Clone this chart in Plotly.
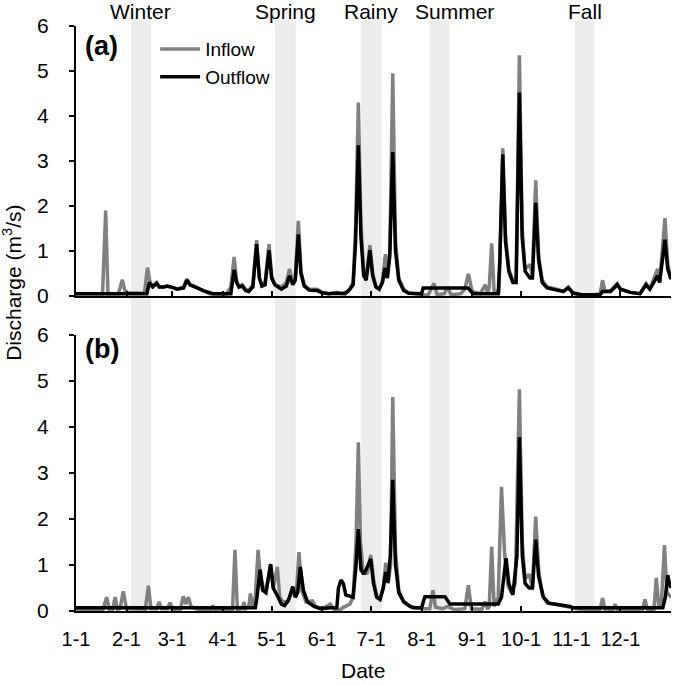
import plotly.graph_objects as go
from plotly.subplots import make_subplots

# month starts (day of year) and their labels
month_days = [0, 31, 59, 90, 120, 151, 181, 212, 243, 273, 304, 334]
month_labels = ["1-1", "2-1", "3-1", "4-1", "5-1", "6-1", "7-1", "8-1", "9-1", "10-1", "11-1", "12-1"]

# shaded sampling periods
seasons = ["Winter", "Spring", "Rainy", "Summer", "Fall"]
season_start = [33.7, 122, 175, 216.8, 306]
season_end = [46, 134.8, 187.5, 229, 318]

# (a) inflow
a_in_day = [0, 15.5, 16.3, 18.2, 19.6, 26, 28.4, 30, 32, 42, 43.8, 45.5, 47, 49.5, 51, 54, 56, 60, 62, 66, 68, 70, 74, 78, 82,
            92, 95, 97, 98.5, 100, 102, 104, 106, 108.5, 110.8, 112.5, 114, 116, 118.4, 120, 122, 126, 129, 131, 133, 134.5,
            136.4, 138, 140, 143, 146, 148, 151, 155, 160, 163, 167, 170, 171.5, 173.2, 174.8, 176.5, 178, 180.3, 182, 184,
            186, 188, 189.8, 191, 192.5, 194.3, 196, 198, 201, 204, 212, 216, 219.6, 221.5, 226, 228, 230, 236, 238.5, 240.7,
            243, 248, 251, 252.5, 253.5, 255, 256.5, 259.5, 261.8, 263.5, 265.5, 268, 270, 272, 273.7, 275.5, 278.5, 280,
            282, 283.8, 286, 289, 295, 299, 302, 305, 310, 318, 321.5, 323, 324.5, 328, 332, 334, 340, 346, 349.7, 352,
            356.8, 358, 361.3, 363, 365]
a_in_q = [0.05, 0.05, 0.05, 1.9, 0.05, 0.05, 0.36, 0.12, 0.07, 0.06, 0.63, 0.3, 0.22, 0.3, 0.2, 0.2, 0.22, 0.18, 0.15, 0.2,
          0.38, 0.25, 0.2, 0.12, 0.05,
          0.04, 0.2, 0.87, 0.35, 0.2, 0.25, 0.15, 0.12, 0.25, 1.24, 0.4, 0.25, 0.3, 1.15, 0.45, 0.25, 0.2, 0.3, 0.6, 0.3, 0.4,
          1.67, 0.55, 0.25, 0.15, 0.15, 0.15, 0.08, 0.05, 0.08, 0.05, 0.1, 0.3, 1.5, 4.3, 1.6, 0.5, 0.4, 1.13, 0.5, 0.2,
          0.15, 0.35, 0.93, 0.4, 1.0, 4.95, 1.2, 0.4, 0.15, 0.07, 0.03, 0.02, 0.28, 0.03, 0.05, 0.2, 0.03, 0.05, 0.15, 0.49,
          0.1, 0.05, 0.25, 0.05, 0.2, 1.17, 0.1, 0.1, 3.28, 1.3, 0.6, 0.35, 0.4, 5.35, 1.5, 0.6, 0.7, 0.45,
          2.57, 0.9, 0.35, 0.2, 0.15, 0.1, 0.2, 0.07, 0.03, 0.03, 0.05, 0.35, 0.1, 0.12, 0.28, 0.15, 0.08, 0.05, 0.27, 0.15,
          0.6, 0.3, 1.73, 0.7, 0.4]

# (a) outflow
a_out_day = [0, 42, 43.5, 45, 47, 49.5, 51, 54, 56, 60, 62, 66, 68, 70, 74, 78, 84, 95, 97, 98.5, 100, 102, 104, 106, 108.5,
             110.8, 112.5, 114, 116, 118.4, 120, 122, 126, 129, 131, 133, 134.5, 136.4, 138, 140, 143, 146, 148, 151, 155,
             160, 165, 168, 170, 171.5, 173.2, 174.8, 176.5, 178, 180.3, 182, 184, 186, 188, 189.5, 191, 192.5, 194.3, 196,
             198, 201, 204, 212, 213, 240.5, 243.5, 259, 260, 261.8, 263.5, 265.5, 268, 270, 272, 273.7, 275.5, 278.5, 280,
             282, 283.8, 286, 289, 295, 299, 302, 305, 310, 321.5, 323, 328, 332, 334, 340, 346, 349.7, 352, 356.8, 358,
             361.3, 363, 365]
a_out_q = [0.05, 0.05, 0.05, 0.3, 0.2, 0.28, 0.2, 0.2, 0.22, 0.18, 0.15, 0.18, 0.35, 0.25, 0.18, 0.12, 0.05, 0.05, 0.58, 0.3,
           0.2, 0.22, 0.12, 0.1, 0.2,
           1.15, 0.4, 0.22, 0.25, 1.02, 0.4, 0.25, 0.15, 0.22, 0.45, 0.25, 0.35, 1.37, 0.5, 0.22, 0.13, 0.12, 0.12, 0.07, 0.05,
           0.06, 0.05, 0.15, 0.25, 1.2, 3.35, 1.3, 0.45, 0.35, 1.02, 0.45, 0.2, 0.15, 0.3, 0.62, 0.4, 0.9, 3.2, 1.0,
           0.35, 0.12, 0.06, 0.05, 0.18, 0.18, 0.05, 0.05, 0.8, 3.15, 1.2, 0.55, 0.3, 0.3, 4.52, 1.3, 0.55, 0.4, 0.4,
           2.07, 0.8, 0.3, 0.18, 0.13, 0.1, 0.18, 0.06, 0.03, 0.03, 0.1, 0.1, 0.25, 0.15, 0.08, 0.05, 0.25, 0.15, 0.45, 0.3,
           1.25, 0.6, 0.37]

# (b) inflow
b_in_day = [0, 16.5, 18.8, 20.5, 22.5, 24, 25.5, 27, 29, 31, 42.5, 44.4, 46, 49.5, 51, 52.5, 56, 57.7, 59.5, 64, 65.8, 67.3,
            69, 70.5, 73, 75, 83, 84, 85, 96, 97.5, 99, 102, 103, 104, 106, 107, 108.5, 110, 111.7, 113, 115, 117, 119.4,
            121, 123.5, 125, 127, 130, 133, 135, 136.8, 138.5, 141, 145, 147, 151, 156, 158, 161, 164, 168, 170, 171.8,
            173.2, 174.5, 176, 178.5, 180.8, 182.5, 184.5, 186.5, 188.5, 190, 191.5, 193, 194.3, 196, 198, 201, 205, 212,
            217, 219, 220.5, 225, 228, 232, 238.5, 240.7, 242.5, 249, 251, 252.5, 253.5, 255, 256.5, 259, 261, 263, 265,
            267, 269.5, 272, 273.7, 275.5, 278, 280, 282, 283.8, 286, 289, 295, 300, 304, 310, 321.5, 323, 324.5, 329.5,
            330.7, 332, 347.5, 349, 350.5, 354.5, 356, 357.5, 359, 361, 362.5, 365]
b_in_q = [0.03, 0.03, 0.3, 0.03, 0.03, 0.3, 0.03, 0.05, 0.43, 0.05, 0.04, 0.55, 0.05, 0.05, 0.2, 0.05, 0.05, 0.18, 0.04, 0.04,
          0.32, 0.15, 0.3, 0.1, 0.06, 0.04, 0.04, 0.12, 0.03, 0.03, 1.33, 0.03, 0.05, 0.2, 0.05, 0.1, 0.38, 0.1, 0.3, 1.33,
          0.8, 0.5, 0.5, 1.0, 0.5, 0.96, 0.3, 0.2, 0.2, 0.5, 0.3, 1.28, 0.45, 0.2, 0.22, 0.1, 0.05, 0.15, 0.05, 0.0, 0.08,
          0.15, 0.3, 1.5, 3.67, 1.5, 0.9, 0.8, 1.22, 0.7, 0.3, 0.25, 0.5, 1.05, 0.6, 1.0, 4.65, 1.3, 0.45, 0.2, 0.1, 0.05,
          0.05, 0.45, 0.08, 0.05, 0.1, 0.03, 0.05, 0.56, 0.05, 0.04, 0.2, 0.04, 0.1, 1.4, 0.1, 0.3, 2.7, 1.2, 0.55,
          0.4, 0.6, 4.82, 1.5, 0.7, 0.8, 0.5, 2.05, 0.9, 0.35, 0.17, 0.14, 0.1, 0.06, 0.03, 0.03, 0.28, 0.03, 0.03,
          0.15, 0.03, 0.03, 0.25, 0.03, 0.03, 0.72, 0.1, 0.1, 1.43, 0.4, 0.3]

# (b) outflow
b_out_day = [0, 110, 111, 113, 114.5, 116.5, 119.4, 121, 124, 126, 128, 130.5, 133, 134.5, 136, 137.6, 139.5, 142, 146, 150,
             156, 160, 161, 162.5, 164, 165.5, 170, 171.8, 173.2, 174.8, 176.5, 178, 180.8, 182.5, 184.5, 186.5, 188.5, 190,
             191.3, 192.8, 194.3, 196, 198, 201, 205, 207, 212, 214, 226.4, 229.4, 259, 261, 263.8, 265.5, 268, 270.5, 272,
             273.8, 275.5, 278, 280, 282, 283.8, 286.7, 290, 295, 300, 303, 305, 360, 361.5, 363, 364, 365]
b_out_q = [0.07, 0.07, 0.3, 0.9, 0.45, 0.4, 1.02, 0.5, 0.3, 0.15, 0.12, 0.25, 0.53, 0.3, 0.4, 0.96, 0.45, 0.2, 0.1, 0.05,
           0.07, 0.07, 0.5, 0.67, 0.6, 0.35, 0.3, 1.0, 1.78, 0.9, 0.8, 0.9, 1.13, 0.6, 0.3, 0.25, 0.5, 0.85,
           0.62, 1.2, 2.85, 1.0, 0.4, 0.2, 0.1, 0.07, 0.07, 0.31, 0.31, 0.15, 0.15, 0.3, 1.15, 0.6, 0.35, 1.2, 3.78,
           1.2, 0.6, 0.5, 0.5, 1.55, 0.75, 0.3, 0.17, 0.15, 0.12, 0.1, 0.07, 0.07, 0.3, 0.78, 0.6, 0.5]

FONT = "Liberation Sans, Arial, sans-serif"
GRAY = "#808080"

fig = make_subplots(rows=2, cols=1)

panels = [(a_in_day, a_in_q, a_out_day, a_out_q), (b_in_day, b_in_q, b_out_day, b_out_q)]
for i, (d_in, q_in, d_out, q_out) in enumerate(panels, start=1):
    fig.add_trace(go.Scatter(x=d_in, y=q_in, mode="lines", name="Inflow",
                             line=dict(color=GRAY, width=3.5), showlegend=(i == 1)), row=i, col=1)
    fig.add_trace(go.Scatter(x=d_out, y=q_out, mode="lines", name="Outflow",
                             line=dict(color="black", width=3.5), showlegend=(i == 1)), row=i, col=1)

# grey bands spanning both panels
for s0, s1 in zip(season_start, season_end):
    fig.add_shape(type="rect", xref="x", yref="paper", x0=s0, x1=s1, y0=0, y1=1.01,
                  fillcolor="#ececec", line_width=0, layer="below")

# season labels above bands
for name, s0, s1 in zip(seasons, season_start, season_end):
    fig.add_annotation(x=(s0 + s1) / 2, y=1.0256, xref="x", yref="paper", text=name, showarrow=False,
                       xanchor="center", yanchor="middle", xshift=15 if name == "Summer" else 0,
                       font=dict(size=21, family=FONT, color="black"))

fig.add_annotation(x=0.0124, y=0.995, xref="paper", yref="paper", text="<b>(a)</b>", showarrow=False,
                   xanchor="left", yanchor="top", font=dict(size=27, family=FONT, color="black"))
fig.add_annotation(x=0.0124, y=0.477, xref="paper", yref="paper", text="<b>(b)</b>", showarrow=False,
                   xanchor="left", yanchor="top", font=dict(size=27, family=FONT, color="black"))

fig.add_annotation(x=0, y=0.561, xref="paper", yref="paper", text="Discharge (m<sup>3</sup>/s)",
                   textangle=-90, showarrow=False, xshift=-64, xanchor="center", yanchor="middle",
                   font=dict(size=21, family=FONT, color="black"))
fig.add_annotation(x=176, y=-0.101, xref="x", yref="paper", text="Date", showarrow=False,
                   xanchor="center", yanchor="middle", font=dict(size=21, family=FONT, color="black"))

xcommon = dict(range=[0, 365], tickvals=month_days, ticktext=month_labels, ticks="inside", ticklen=5,
               showline=True, linecolor="black", linewidth=2, tickcolor="black", tickwidth=2,
               showgrid=False, zeroline=False, tickfont=dict(size=20, family=FONT, color="black"),
               ticklabelstandoff=9, automargin=False,
               minor=dict(tickvals=[365], ticks="inside", ticklen=5, tickcolor="black", tickwidth=2, showgrid=False))
ycommon = dict(range=[0, 6], tickvals=[0, 1, 2, 3, 4, 5, 6], ticks="outside", ticklen=5,
               showline=True, linecolor="black", linewidth=2, tickcolor="black", tickwidth=2,
               showgrid=False, zeroline=False, tickfont=dict(size=21, family=FONT, color="black"),
               ticklabelstandoff=16, automargin=False)

fig.update_layout(
    width=676, height=685,
    margin=dict(l=76, r=5, t=26, b=74),
    paper_bgcolor="white", plot_bgcolor="rgba(0,0,0,0)",
    font=dict(family=FONT, color="black"),
    xaxis=dict(xcommon, domain=[0, 1], anchor="y", showticklabels=False),
    xaxis2=dict(xcommon, domain=[0, 1], anchor="y2"),
    yaxis=dict(ycommon, domain=[0.5385, 1.0], anchor="x"),
    yaxis2=dict(ycommon, domain=[0.0, 0.4718], anchor="x2"),
    legend=dict(x=0.133, y=0.993, xanchor="left", yanchor="top", bgcolor="rgba(0,0,0,0)",
                font=dict(size=19, family=FONT, color="black"), tracegroupgap=0, itemwidth=40),
)

# drop the default 8px page margin so the figure sits at the window's corner
fig.write_html("out.html", config={"displayModeBar": False},
               post_script="document.body.style.margin = '0';")
